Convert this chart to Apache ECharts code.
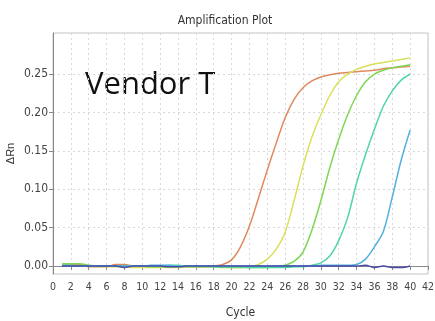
<!DOCTYPE html>
<html>
<head>
<meta charset="utf-8">
<script src="https://cdn.jsdelivr.net/npm/echarts@6/dist/echarts.min.js"></script>
<style>
html,body{margin:0;padding:0;background:#fff;}
#chart{width:435px;height:321px;}
</style>
</head>
<body>
<div id="chart"></div>
<script>
const cycles = [1,2,3,4,5,6,7,8,9,10,11,12,13,14,15,16,17,18,19,20,21,22,23,24,25,26,27,28,29,30,31,32,33,34,35,36,37,38,39,40];
const orange = [0.002,0.002,0.002,-0.001,-0.001,-0.001,0.002,0.002,0.000,0.000,0.000,0.000,0.000,-0.001,-0.001,-0.001,-0.001,0.000,0.002,0.008,0.025,0.052,0.088,0.125,0.160,0.193,0.217,0.232,0.241,0.246,0.249,0.251,0.252,0.253,0.254,0.255,0.257,0.258,0.259,0.260];
const yellow = [0.001,0.001,0.000,0.000,-0.001,-0.001,-0.001,-0.001,-0.002,-0.002,-0.002,-0.002,-0.002,-0.002,-0.001,-0.001,-0.001,-0.001,-0.001,-0.002,-0.002,-0.001,0.002,0.009,0.022,0.044,0.085,0.130,0.168,0.197,0.222,0.240,0.250,0.256,0.260,0.263,0.265,0.267,0.269,0.271];
const green = [0.003,0.003,0.003,0.001,0.000,0.000,0.000,0.000,0.000,0.000,-0.001,-0.001,-0.001,-0.001,-0.001,-0.001,-0.001,-0.001,-0.002,-0.002,-0.002,-0.002,-0.002,-0.002,-0.001,0.001,0.006,0.018,0.047,0.085,0.128,0.165,0.197,0.222,0.240,0.250,0.255,0.258,0.260,0.262];
const teal = [0.001,0.001,0.000,0.000,0.000,0.000,0.000,0.000,0.000,0.000,0.000,0.000,0.001,0.001,0.000,0.000,0.000,-0.001,-0.001,-0.001,-0.001,-0.002,-0.002,-0.002,-0.002,-0.002,-0.001,-0.001,0.001,0.004,0.013,0.033,0.063,0.108,0.145,0.178,0.208,0.228,0.242,0.250];
const blue = [0.000,0.000,0.000,0.000,0.000,0.000,0.000,0.000,0.000,0.000,0.001,0.001,0.001,0.000,0.000,0.000,0.000,0.000,0.000,0.000,0.000,0.000,0.000,0.000,0.000,0.000,0.000,0.000,0.000,0.001,0.001,0.001,0.001,0.002,0.009,0.025,0.045,0.090,0.138,0.177];
const purple = [0.000,0.000,0.000,0.000,0.000,0.000,0.000,-0.002,0.000,0.000,0.000,0.000,-0.001,-0.001,0.000,0.000,0.000,0.000,0.000,0.000,0.000,0.000,0.000,0.000,0.000,0.000,0.000,0.000,0.000,0.000,0.000,0.000,0.000,0.000,0.001,-0.002,0.000,-0.002,-0.002,0.000];
const yTicks = [0,0.05,0.10,0.15,0.20,0.25];
const seriesList = [
  {name:'S1', data: orange, color:'#df8a5e'},
  {name:'S2', data: yellow, color:'#d9e05a'},
  {name:'S3', data: green, color:'#7fd655'},
  {name:'S4', data: teal, color:'#4fd6a2'},
  {name:'S5', data: blue, color:'#52b0e0'},
  {name:'S6', data: purple, color:'#4a4aa8'}
];
const narrow = '"DejaVu Sans Condensed","Liberation Sans Narrow","Liberation Sans",sans-serif';
const chart = echarts.init(document.getElementById('chart'));
chart.setOption({
  animation:false,
  title:{text:'Amplification Plot', left:220, top:10, textAlign:'center',
    textStyle:{fontFamily:narrow, fontSize:12, fontWeight:'normal', color:'#333'}},
  grid:{left:53, right:7, top:33, bottom:47, show:true, borderColor:'#c4c4c4', borderWidth:1,
    outerBoundsMode:'none', containLabel:false},
  graphic:[{type:'text', left:85, top:70, style:{text:'Vendor T', fontFamily:'"Open Sans",sans-serif', fontSize:31, fill:'#111'}}],
  xAxis:{type:'value', min:0, max:42, interval:2,
    name:'Cycle', nameLocation:'middle', nameGap:33, nameMoveOverlap:false,
    nameTextStyle:{fontFamily:narrow, fontSize:12, color:'#333'},
    axisLine:{lineStyle:{color:'#888'}},
    axisTick:{show:true, length:4, lineStyle:{color:'#888'}},
    axisLabel:{fontFamily:narrow, fontSize:10.5, color:'#444', margin:8},
    splitLine:{show:true, lineStyle:{color:'#d8d8d8', type:[2,3]}}
  },
  yAxis:{type:'value', min:-0.0104, max:0.3034,
    name:'ΔRn', nameLocation:'middle', nameGap:37, nameRotate:90, nameMoveOverlap:false,
    nameTextStyle:{fontFamily:'"Liberation Sans",sans-serif', fontSize:11, color:'#333'},
    axisLine:{show:true, lineStyle:{color:'#888'}},
    axisTick:{show:true, length:4, customValues:yTicks, lineStyle:{color:'#888'}},
    axisLabel:{fontFamily:narrow, fontSize:12, color:'#444', margin:5, customValues:yTicks,
      formatter:v=>v.toFixed(2)},
    splitLine:{show:true, lineStyle:{color:'#d8d8d8', type:[2,3]}}
  },
  series: seriesList.map(s=>({
    type:'line', name:s.name, data: cycles.map((c,i)=>[c, s.data[i]]),
    showSymbol:false, smooth:0.3, lineStyle:{width:1.5, color:s.color}, itemStyle:{color:s.color}
  }))
});
</script>
</body>
</html>
